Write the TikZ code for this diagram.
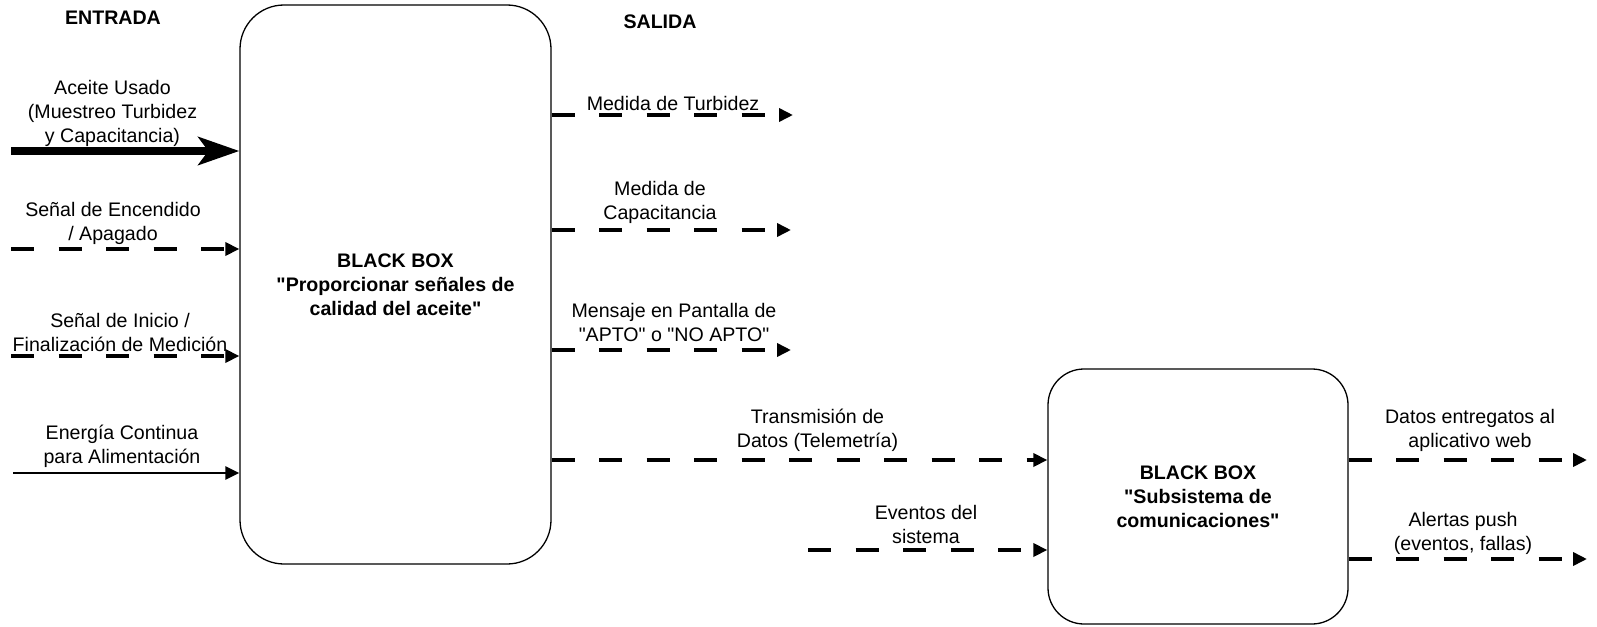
\documentclass[tikz,border=0pt]{standalone}
\usepackage{fontspec}
\setmainfont{Liberation Sans}
\usetikzlibrary{arrows.meta}
\newcommand{\qq}{\textquotedbl{}}
\begin{document}
\begin{tikzpicture}[x=1pt,y=-1pt,
  lbl/.style={align=center,inner sep=0pt,font=\fontsize{19.6}{24}\selectfont},
  ttl/.style={inner sep=0pt,font=\fontsize{19.6}{24}\selectfont\bfseries},
  bbox/.style={draw,line width=1.3pt,inner sep=0pt,align=center,font=\fontsize{19.6}{24}\selectfont\bfseries},
  dsh/.style={line width=3.5pt,dash pattern=on 23pt off 24.5pt,-{Triangle[length=14pt,width=13pt]}},
  thickarr/.style={line width=7.3pt,-{Stealth[length=41pt,width=28pt,inset=10pt]}},
  solidarr/.style={line width=2.7pt,-{Triangle[length=14pt,width=13pt]}}
]
\useasboundingbox (0,0) rectangle (1597,626);

% boxes
\node[bbox,rounded corners=44pt,minimum width=311pt,minimum height=559pt] (b1) at (395.5,284.5)
  {BLACK BOX\\\qq Proporcionar señales de\\calidad del aceite\qq};
\node[bbox,rounded corners=36pt,minimum width=300pt,minimum height=255pt] (b2) at (1198,496.5)
  {BLACK BOX\\\qq Subsistema de\\comunicaciones\qq};

% titles
\node[ttl] (tin) at (113,18) {ENTRADA};
\node[ttl] (tout) at (660,22) {SALIDA};

% input connectors
\coordinate (i1) at (11,151);
\coordinate (i2) at (11,249);
\coordinate (i3) at (11,356);
\coordinate (i4) at (13,473);
\draw[thickarr] (i1) -- (i1 -| b1.west);
\draw[dsh] (i2) -- (i2 -| b1.west);
\draw[dsh] (i3) -- (i3 -| b1.west);
\draw[solidarr] (i4) -- (i4 -| b1.west);

% input labels
\node[lbl] (l1) at (112.5,113) {Aceite Usado\\(Muestreo Turbidez\\y Capacitancia)};
\node[lbl] (l2) at (113,223) {Señal de Encendido\\/ Apagado};
\node[lbl] (l3) at (120,332) {Señal de Inicio /\\Finalización de Medición};
\node[lbl] (l4) at (122,446) {Energía Continua\\para Alimentación};

% output connectors
\coordinate (o1) at (793,115);
\coordinate (o2) at (791,230);
\coordinate (o3) at (791,350);
\coordinate (t) at (0,460);
\coordinate (e) at (808,550);
\coordinate (d) at (1587,460);
\coordinate (a) at (1587,559);
\draw[dsh] (o1 -| b1.east) -- (o1);
\draw[dsh] (o2 -| b1.east) -- (o2);
\draw[dsh] (o3 -| b1.east) -- (o3);
\draw[dsh] (t -| b1.east) -- (t -| b2.west);
\draw[dsh] (e) -- (e -| b2.west);
\draw[dsh] (d -| b2.east) -- (d);
\draw[dsh] (a -| b2.east) -- (a);

% output labels
\node[lbl] (m1) at (673,103) {Medida de Turbidez};
\node[lbl] (m2) at (660,202) {Medida de\\Capacitancia};
\node[lbl] (m3) at (674,322.5) {Mensaje en Pantalla de\\\qq APTO\qq{} o \qq NO APTO\qq};
\node[lbl] (m4) at (817.5,430.5) {Transmisión de\\Datos (Telemetría)};
\node[lbl] (m5) at (926,524.5) {Eventos del\\sistema};
\node[lbl] (m6) at (1470,430.5) {Datos entregatos al\\aplicativo web};
\node[lbl] (m7) at (1463,533.5) {Alertas push\\(eventos, fallas)};
\end{tikzpicture}
\end{document}
